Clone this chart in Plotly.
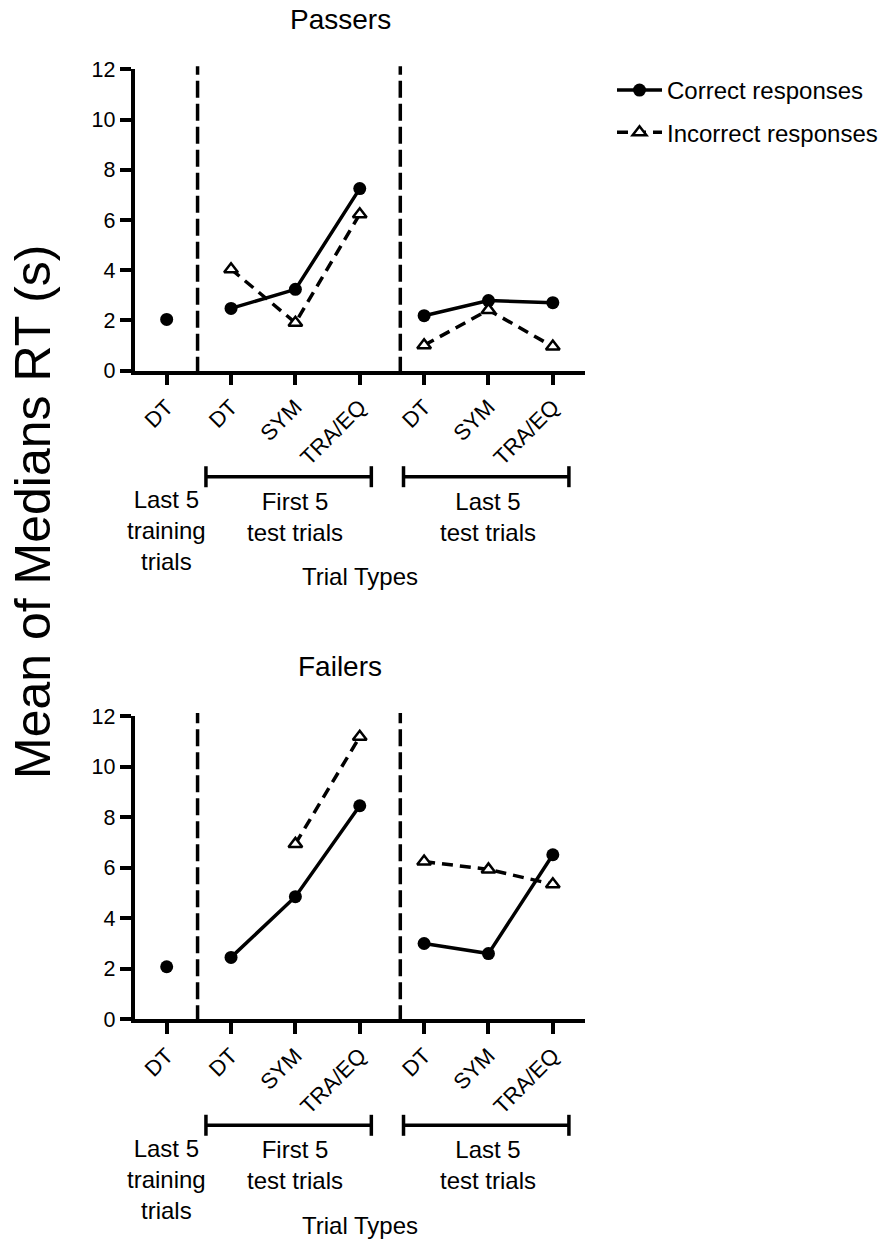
import plotly.graph_objects as go

W, H = 890, 1241

categories = ["DT", "DT", "SYM", "TRA/EQ", "DT", "SYM", "TRA/EQ"]
group_labels = ["Last 5<br>training<br>trials", "First 5<br>test trials", "Last 5<br>test trials"]
series_names = ["Correct responses", "Incorrect responses"]
panel_titles = ["Passers", "Failers"]

# Passers
passers_correct_training = [2.04]
passers_correct_first5 = [2.48, 3.24, 7.25]
passers_correct_last5 = [2.19, 2.79, 2.71]
passers_incorrect_training = [None]
passers_incorrect_first5 = [4.04, 1.91, 6.23]
passers_incorrect_last5 = [1.01, 2.42, 0.96]

# Failers
failers_correct_training = [2.08]
failers_correct_first5 = [2.45, 4.85, 8.45]
failers_correct_last5 = [3.00, 2.60, 6.51]
failers_incorrect_training = [None]
failers_incorrect_first5 = [None, 6.94, 11.18]
failers_incorrect_last5 = [6.24, 5.93, 5.34]


def px(x):
    return x / W


def py(y):
    return 1 - y / H


def build(training, first5, last5):
    xs, ys = [], []
    idx = 0
    for k, grp in enumerate([training, first5, last5]):
        if k > 0:
            xs.append(None)
            ys.append(None)
        for v in grp:
            xs.append(idx)
            ys.append(v)
            idx += 1
    return xs, ys


fig = go.Figure()

panels = [
    (passers_correct_training, passers_correct_first5, passers_correct_last5,
     passers_incorrect_training, passers_incorrect_first5, passers_incorrect_last5),
    (failers_correct_training, failers_correct_first5, failers_correct_last5,
     failers_incorrect_training, failers_incorrect_first5, failers_incorrect_last5),
]

axis_pix = [(69.3, 370.7), (716.0, 1019.3)]
xdom = [px(134.5), px(585)]
FONT = "Liberation Sans, Arial"

for p, data in enumerate(panels):
    xa = "x" if p == 0 else "x2"
    ya = "y" if p == 0 else "y2"
    cx, cy = build(data[0], data[1], data[2])
    ix, iy = build(data[3], data[4], data[5])
    fig.add_trace(go.Scatter(
        x=cx, y=cy, xaxis=xa, yaxis=ya, mode="lines+markers",
        name=series_names[0], showlegend=(p == 0), connectgaps=False,
        legendgroup="correct",
        line=dict(color="black", width=3.5),
        marker=dict(symbol="circle", size=13, color="black"),
        cliponaxis=False,
    ))
    fig.add_trace(go.Scatter(
        x=ix, y=iy, xaxis=xa, yaxis=ya, mode="lines+markers",
        name=series_names[1], showlegend=(p == 0), connectgaps=False,
        legendgroup="incorrect",
        line=dict(color="black", width=3.5, dash="11px,7px"),
        marker=dict(symbol="triangle-up", size=12, color="white",
                    line=dict(color="black", width=2.5)),
        cliponaxis=False,
    ))

axis_common = dict(
    showgrid=False, zeroline=False, showline=True, linecolor="black",
    linewidth=3.5, ticks="outside", ticklen=11, tickwidth=3.5, tickcolor="black",
    automargin=False,
    tickfont=dict(family=FONT, size=21.5, color="black"),
)

layout = dict(
    width=W, height=H,
    margin=dict(l=0, r=0, t=0, b=0),
    paper_bgcolor="white", plot_bgcolor="white",
    font=dict(family=FONT, color="black"),
    showlegend=True,
    legend=dict(x=px(612), y=py(68), xanchor="left", yanchor="top",
                font=dict(size=24, color="black"), bgcolor="rgba(0,0,0,0)",
                itemwidth=45, traceorder="grouped", tracegroupgap=8),
)

for p in range(2):
    top, bot = axis_pix[p]
    xk = "xaxis" if p == 0 else "xaxis2"
    yk = "yaxis" if p == 0 else "yaxis2"
    layout[xk] = dict(axis_common, domain=xdom, range=[-0.5, 6.5],
                      tickvals=list(range(len(categories))), ticktext=categories,
                      tickangle=-45, anchor="y" if p == 0 else "y2",
                      tickfont=dict(family=FONT, size=22, color="black"))
    layout[yk] = dict(axis_common, domain=[py(bot), py(top)], range=[0, 12],
                      tickvals=[0, 2, 4, 6, 8, 10, 12],
                      anchor="x" if p == 0 else "x2")

fig.update_layout(**layout)

shapes = []
annotations = []
for p in range(2):
    top, bot = axis_pix[p]
    xr = "x" if p == 0 else "x2"
    # dashed separators
    for xv in [0.48, 3.63]:
        shapes.append(dict(type="line", xref=xr, yref="paper", x0=xv, x1=xv,
                           y0=py(bot + 3), y1=py(top - 3),
                           line=dict(color="black", width=3.5, dash="17px,6px")))
    # brackets
    by = bot + 106
    for (a, b) in [(0.61, 3.18), (3.68, 6.25)]:
        shapes.append(dict(type="line", xref=xr, yref="paper", x0=a, x1=b,
                           y0=py(by), y1=py(by), line=dict(color="black", width=3.5)))
        for xv in (a, b):
            shapes.append(dict(type="line", xref=xr, yref="paper", x0=xv, x1=xv,
                               y0=py(by - 10.5), y1=py(by + 10.5),
                               line=dict(color="black", width=3.5)))
    # group labels
    centers = [(0, bot + 160), (2, bot + 146), (5, bot + 146)]
    for (xv, yc), lab in zip(centers, group_labels):
        annotations.append(dict(xref=xr, yref="paper", x=xv, y=py(yc), text=lab,
                                showarrow=False, xanchor="center", yanchor="middle",
                                font=dict(size=24, color="black")))
    annotations.append(dict(xref=xr, yref="paper", x=3.0, y=py(bot + 206), text="Trial Types",
                            showarrow=False, xanchor="center", yanchor="middle",
                            font=dict(size=24, color="black")))
    annotations.append(dict(xref="paper", yref="paper", x=px(340), y=py(top - 50),
                            text=panel_titles[p], showarrow=False,
                            xanchor="center", yanchor="middle",
                            font=dict(size=28, color="black")))

annotations.append(dict(xref="paper", yref="paper", x=px(33), y=py(512),
                        text="Mean of Medians RT (s)", textangle=-90, showarrow=False,
                        xanchor="center", yanchor="middle",
                        font=dict(size=50, color="black")))

fig.update_layout(shapes=shapes, annotations=annotations)
fig.write_html("out.html", config={"displayModeBar": False},
               post_script="document.body.style.margin='0';document.body.style.padding='0';")
